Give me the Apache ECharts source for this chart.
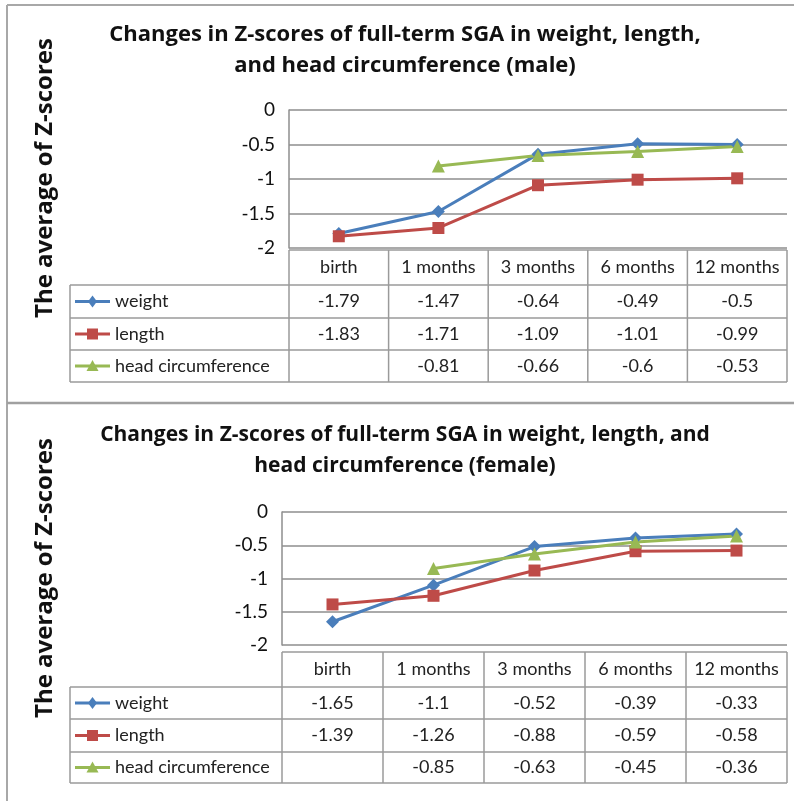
<!DOCTYPE html>
<html>
<head>
<meta charset="utf-8">
<script src="https://cdn.jsdelivr.net/npm/echarts@6/dist/echarts.min.js"></script>
<style>
html,body{margin:0;padding:0;background:#fff;}
#chart{width:794px;height:801px;}
</style>
</head>
<body>
<div id="chart"></div>
<script>
// ---- data ----
const categories = ['birth', '1 months', '3 months', '6 months', '12 months'];
const seriesNames = ['weight', 'length', 'head circumference'];
const maleWeight = [-1.79, -1.47, -0.64, -0.49, -0.5];
const maleLength = [-1.83, -1.71, -1.09, -1.01, -0.99];
const maleHead = [null, -0.81, -0.66, -0.6, -0.53];
const femaleWeight = [-1.65, -1.1, -0.52, -0.39, -0.33];
const femaleLength = [-1.39, -1.26, -0.88, -0.59, -0.58];
const femaleHead = [null, -0.85, -0.63, -0.45, -0.36];
const yTicks = [0, -0.5, -1, -1.5, -2];
const titles = [
  'Changes in Z-scores of full-term SGA in weight, length,\nand head circumference (male)',
  'Changes in Z-scores of full-term SGA in weight, length, and\nhead circumference (female)'
];
const yAxisTitle = 'The average of Z-scores';

// ---- styles / layout ----
const colors = ['#4a7ebb', '#be4b48', '#98b954'];
const symbols = ['diamond', 'rect', 'triangle'];
const symbolSizes = [13, 12, 13];
const FONT = 'Lato, "Open Sans", sans-serif';
const TFONT = '"Open Sans", Lato, sans-serif';
const gridCol = '#8e8e8e';
const tableCol = '#9a9a9a';

const panels = [
  { data: [maleWeight, maleLength, maleHead], title: titles[0], titleX: 405, titleY: 50, titleSize: 22,
    grid: { left: 289, top: 110, width: 498, height: 138 },
    rows: [250, 285, 318, 350, 382], labelY: 178 },
  { data: [femaleWeight, femaleLength, femaleHead], title: titles[1], titleX: 405, titleY: 451, titleSize: 21,
    grid: { left: 282, top: 512, width: 505, height: 133 },
    rows: [652, 687, 719, 752, 783], labelY: 578 }
];
const tableLeft = 70;

const chart = echarts.init(document.getElementById('chart'), null, { renderer: 'canvas' });

const grids = [], xAxes = [], yAxes = [], series = [], graphics = [];

// frame
graphics.push({ type: 'line', shape: { x1: 7, y1: 5, x2: 794, y2: 5 }, style: { stroke: '#a8a8a8', lineWidth: 2 } });
graphics.push({ type: 'line', shape: { x1: 7, y1: 5, x2: 7, y2: 801 }, style: { stroke: '#a8a8a8', lineWidth: 2 } });
graphics.push({ type: 'line', shape: { x1: 7, y1: 403, x2: 794, y2: 403 }, style: { stroke: '#a0a0a0', lineWidth: 2.5 } });

function markerShape(kind, cx, cy, color) {
  if (kind === 'diamond') {
    return { type: 'polygon', shape: { points: [[cx, cy - 6], [cx + 4.5, cy], [cx, cy + 6], [cx - 4.5, cy]] }, style: { fill: color } };
  }
  if (kind === 'rect') {
    return { type: 'rect', shape: { x: cx - 5.5, y: cy - 5.5, width: 11, height: 11 }, style: { fill: color } };
  }
  return { type: 'polygon', shape: { points: [[cx, cy - 6], [cx + 6, cy + 5], [cx - 6, cy + 5]] }, style: { fill: color } };
}

panels.forEach((p, pi) => {
  grids.push(Object.assign({ containLabel: false }, p.grid));
  xAxes.push({
    type: 'category', gridIndex: pi, data: categories, boundaryGap: true,
    axisLine: { show: false }, axisTick: { show: false }, axisLabel: { show: false }, splitLine: { show: false }
  });
  yAxes.push({
    type: 'value', gridIndex: pi, min: -2, max: 0, interval: 0.5,
    axisLine: { show: true, lineStyle: { color: gridCol, width: 1.5 } },
    axisTick: { show: false },
    axisLabel: { fontFamily: FONT, fontSize: 19, color: '#111', margin: 14 },
    splitLine: { show: true, lineStyle: { color: gridCol, width: 1.5 } }
  });
  p.data.forEach((vals, si) => {
    series.push({
      name: seriesNames[si], type: 'line', xAxisIndex: pi, yAxisIndex: pi,
      data: vals, symbol: symbols[si], symbolSize: symbolSizes[si],
      lineStyle: { color: colors[si], width: 3 }, itemStyle: { color: colors[si] },
      connectNulls: false, silent: true, animation: false
    });
  });

  graphics.push({
    type: 'text', x: p.titleX, y: p.titleY,
    style: { text: p.title, font: 'bold ' + p.titleSize + 'px ' + TFONT, fill: '#111', align: 'center', verticalAlign: 'middle', lineHeight: 31 }
  });
  graphics.push({
    type: 'text', x: 45, y: p.labelY, rotation: Math.PI / 2,
    style: { text: yAxisTitle, font: 'bold 24px ' + TFONT, fill: '#111', align: 'center', verticalAlign: 'middle' }
  });

  const g = p.grid;
  const colW = g.width / categories.length;
  const colX = categories.map((c, i) => g.left + i * colW);
  colX.push(g.left + g.width);
  const r = p.rows;
  const right = g.left + g.width;
  const lineStyle = { stroke: tableCol, lineWidth: 1.5 };
  graphics.push({ type: 'line', shape: { x1: g.left, y1: r[0], x2: right, y2: r[0] }, style: lineStyle });
  for (let k = 1; k < r.length; k++) {
    graphics.push({ type: 'line', shape: { x1: tableLeft, y1: r[k], x2: right, y2: r[k] }, style: lineStyle });
  }
  graphics.push({ type: 'line', shape: { x1: tableLeft, y1: r[1], x2: tableLeft, y2: r[r.length - 1] }, style: lineStyle });
  colX.forEach(x => {
    graphics.push({ type: 'line', shape: { x1: x, y1: r[0], x2: x, y2: r[r.length - 1] }, style: lineStyle });
  });
  categories.forEach((c, i) => {
    graphics.push({ type: 'text', x: colX[i] + colW / 2, y: (r[0] + r[1]) / 2,
      style: { text: c, font: '18px ' + FONT, fill: '#222', align: 'center', verticalAlign: 'middle' } });
  });
  p.data.forEach((vals, si) => {
    const cy = (r[si + 1] + r[si + 2]) / 2;
    graphics.push({ type: 'line', shape: { x1: 75, y1: cy, x2: 110, y2: cy }, style: { stroke: colors[si], lineWidth: 3 } });
    graphics.push(markerShape(symbols[si], 92.5, cy, colors[si]));
    graphics.push({ type: 'text', x: 115, y: cy,
      style: { text: seriesNames[si], font: '18px ' + FONT, fill: '#222', align: 'left', verticalAlign: 'middle' } });
    vals.forEach((v, i) => {
      if (v === null) return;
      graphics.push({ type: 'text', x: colX[i] + colW / 2, y: cy,
        style: { text: String(v), font: '18px ' + FONT, fill: '#222', align: 'center', verticalAlign: 'middle' } });
    });
  });
});

chart.setOption({
  animation: false,
  backgroundColor: '#fff',
  grid: grids,
  xAxis: xAxes,
  yAxis: yAxes,
  series: series,
  graphic: graphics
});
</script>
</body>
</html>
